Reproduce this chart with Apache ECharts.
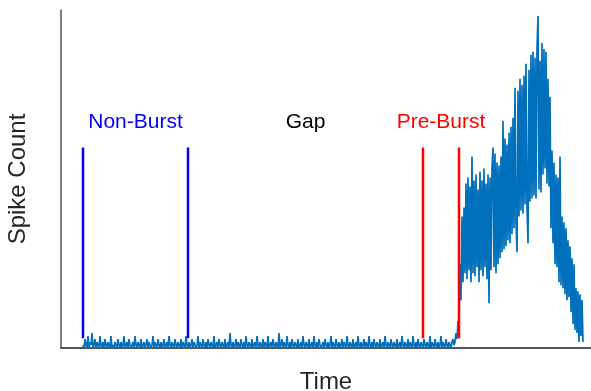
<!DOCTYPE html>
<html>
<head>
<meta charset="utf-8">
<script src="https://cdn.jsdelivr.net/npm/echarts@6/dist/echarts.min.js"></script>
<style>
  html, body { margin: 0; padding: 0; background: #fff; }
  #main { width: 591px; height: 391px; }
</style>
</head>
<body>
<div id="main"></div>
<script>
// spike counts per time bin, quiet period before the burst
const baseline = [
  1,0,3,1,0,4,0,2,1,5,0,1,3,0,2,1,0,4,1,0,2,0,3,1,0,2,1,0,4,0,1,
  0,2,1,0,3,1,0,2,0,1,4,0,1,2,0,3,1,0,1,2,0,4,1,0,2,1,0,3,0,1,2,
  0,1,3,0,2,1,0,1,4,0,2,1,0,3,1,0,2,0,1,3,0,1,2,0,4,1,0,2,1,0,3,
  1,0,2,1,0,3,0,2,1,0,4,1,0,2,0,1,3,0,2,1,0,1,4,0,2,1,0,3,1,0,2,
  0,3,1,0,2,1,0,4,0,1,2,0,3,1,0,2,1,0,3,0,1,2,0,5,1,0,2,0,1,3,0,
  2,1,0,3,1,0,2,0,4,1,0,2,1,0,3,0,1,2,0,4,1,0,2,1,0,3,0,2,1,0,4,
  0,1,2,0,3,1,0,2,1,0,5,0,1,3,0,2,1,0,4,1,0,2,0,3,1,0,2,1,0,3,0,
  1,2,0,4,1,0,2,1,0,3,0,1,2,0,4,1,0,2,0,3,1,0,1,2,0,3,1,0,2,0,1,
  4,0,2,1,0,3,1,0,2,0,1,3,0,2,1,0,4,1,0,2,1,0,3,0,1,2,0,4,1,0,2,
  0,1,3,0,2,1,0,4,1,0,2,0,3,1,0,2,1,0,3,0,1,2,0,4,1,0,2,1,0,3,1,
  0,2,1,0,3,0,1,2,0,4,1,0,2,1,0,3,0,2,1,0,4,1,0,2,0,3,1,0,2,1,0,
  3,1,0,2,1,0,4,0,2,1,0,3,1,0,2,0,1,4,0,2,1,0,3,1,0,2,1,0,2,3,1
];

// spike counts during the burst
const burst = [
  2,5,3,9,7,28,16,44,22,47,
  25,55,23,57,26,54,22,64,25,56,
  24,58,27,53,22,59,26,56,24,60,
  27,55,23,58,15,57,26,60,67,27,
  65,25,62,28,61,30,64,32,76,33,
  70,34,68,36,72,35,74,38,77,40,
  87,42,32,86,44,90,46,88,45,91,
  48,95,47,35,93,49,98,50,99,51,
  97,50,100,111,53,96,52,102,58,100,
  60,99,55,90,54,84,40,66,35,62,
  28,58,27,57,22,64,21,44,20,42,
  18,40,16,36,17,34,12,30,8,28,
  6,20,5,19,2,18,4,16,2
];

// window edges (time bins)
const nonBurstEdges = [0, 105];
const preBurstEdges = [340, 376];
const windowLabels = ["Non-Burst", "Gap", "Pre-Burst"];
const windowCenters = [52.5, 222.5, 358];
const markerLow = 3.3;
const markerHigh = 67;
const labelLevel = 75.5;

const spikeCount = baseline.concat(burst);
const chart = echarts.init(document.getElementById("main"));

const edgeSeries = (t, color) => ({
  type: "line",
  data: [[t, markerLow], [t, markerHigh]],
  symbol: "none",
  silent: true,
  z: 5,
  lineStyle: { color, width: 2.5 },
});

const labelColors = ["#0000ff", "#000000", "#ff0000"];

const axisName = { fontFamily: "Liberation Sans", fontSize: 24, color: "#262626" };

const options = {
  animation: false,
  grid: {
    left: 61, right: 0, top: 10, bottom: 43,
    containLabel: false,
    outerBoundsMode: "none",
  },
  xAxis: {
    type: "value",
    min: -22,
    max: 508,
    name: "Time",
    nameLocation: "middle",
    nameGap: 22,
    nameTextStyle: axisName,
    axisLine: { show: true, onZero: false, lineStyle: { color: "#555", width: 2 } },
    axisTick: { show: false },
    axisLabel: { show: false },
    splitLine: { show: false },
  },
  yAxis: {
    type: "value",
    min: 0,
    max: 113,
    name: "Spike Count",
    nameLocation: "middle",
    nameGap: 31,
    nameTextStyle: axisName,
    axisLine: { show: true, onZero: false, lineStyle: { color: "#555", width: 1.5 } },
    axisTick: { show: false },
    axisLabel: { show: false },
    splitLine: { show: false },
  },
  series: [
    {
      type: "line",
      data: spikeCount.map((v, i) => [i, v]),
      symbol: "none",
      z: 2,
      lineStyle: { color: "#0070BD", width: 1.7 },
    },
    edgeSeries(nonBurstEdges[0], "#0000ff"),
    edgeSeries(nonBurstEdges[1], "#0000ff"),
    edgeSeries(preBurstEdges[0], "#ff0000"),
    edgeSeries(preBurstEdges[1], "#ff0000"),
    {
      type: "scatter",
      symbolSize: 0,
      silent: true,
      itemStyle: { opacity: 1 },
      data: windowLabels.map((name, i) => ({
        value: [windowCenters[i], labelLevel],
        name,
        label: { color: labelColors[i] },
      })),
      label: {
        show: true,
        position: "inside",
        formatter: (p) => p.name,
        fontFamily: "Liberation Sans",
        fontSize: 21,
      },
    },
  ],
};

chart.setOption(options);
</script>
</body>
</html>
